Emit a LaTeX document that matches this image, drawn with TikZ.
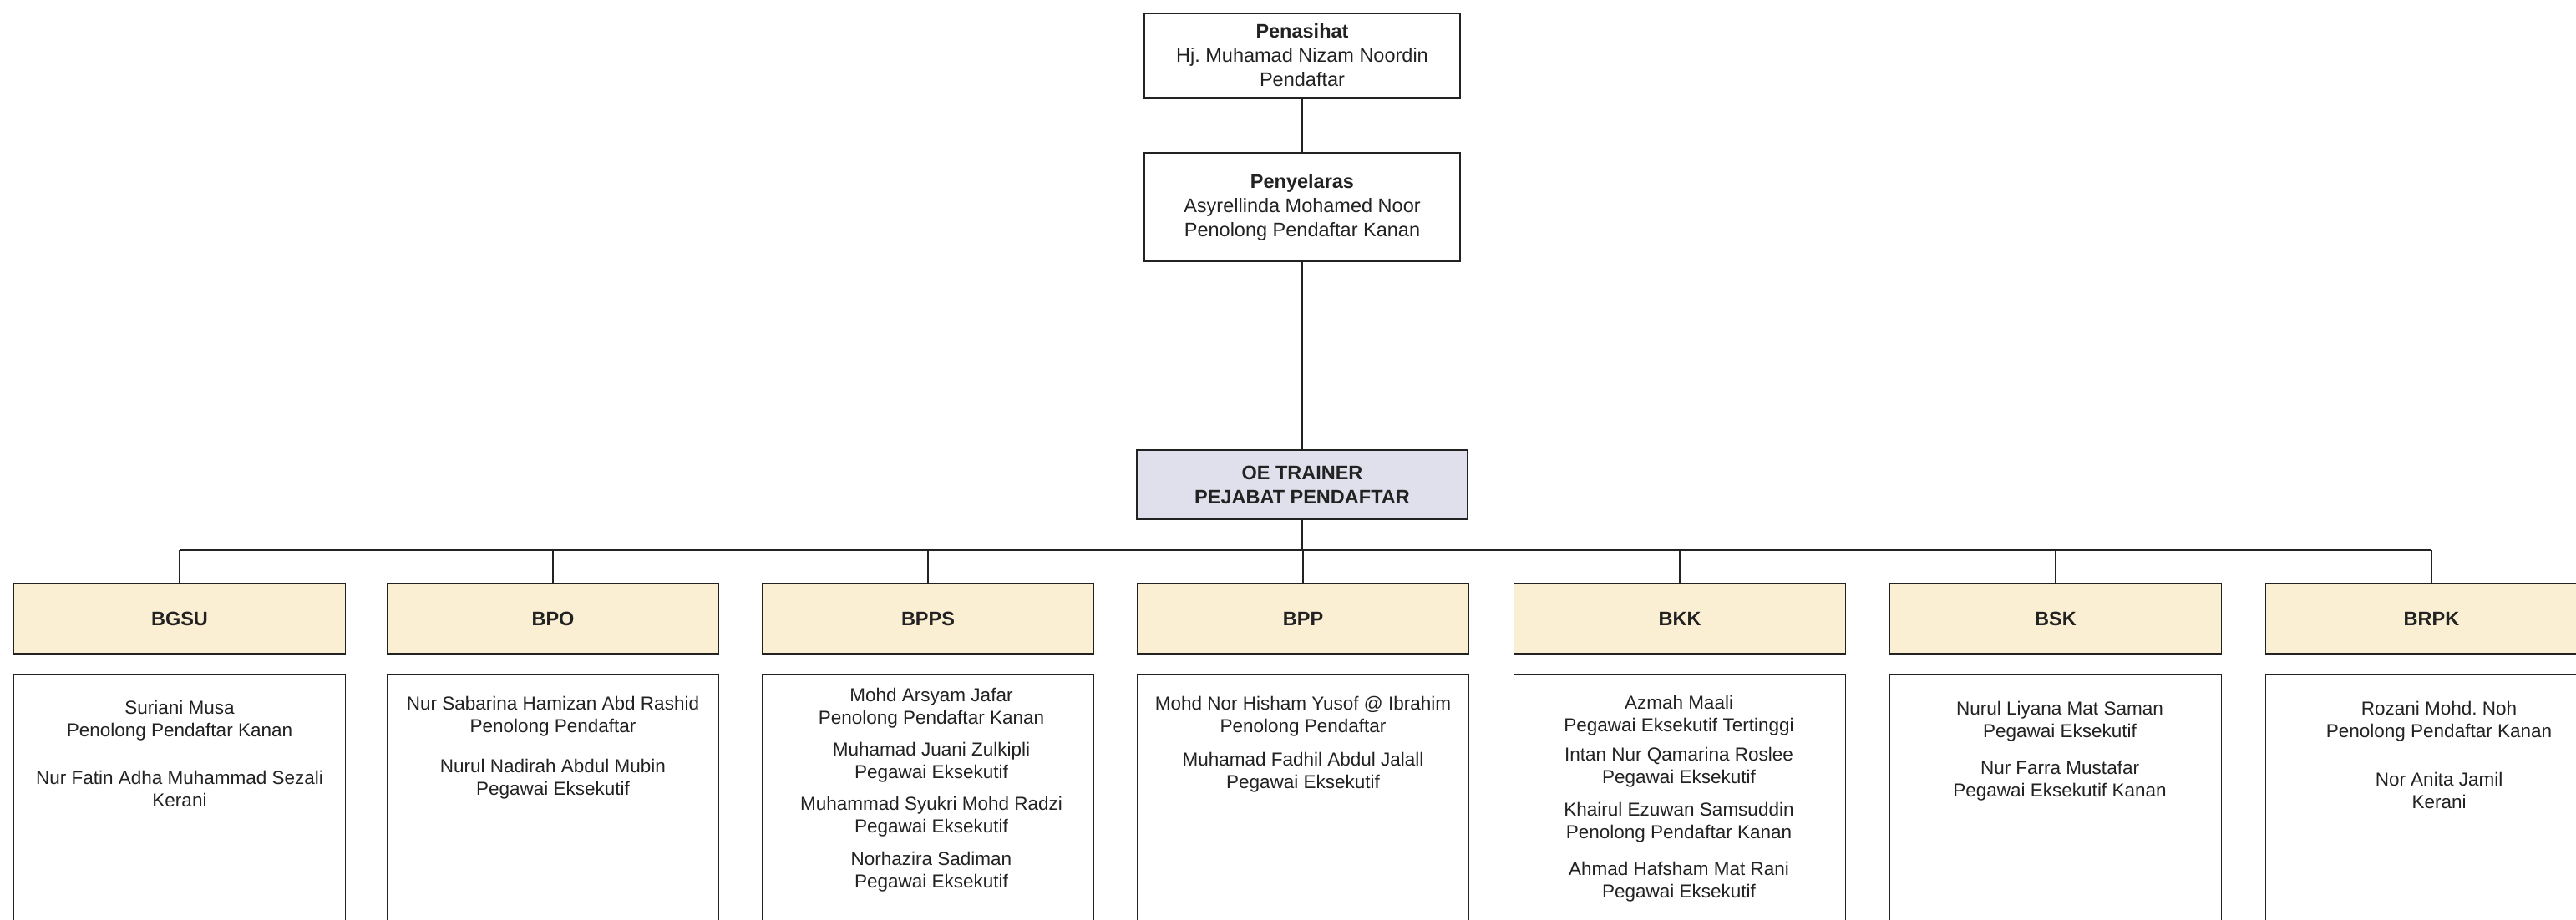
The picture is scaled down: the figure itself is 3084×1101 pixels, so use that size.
\documentclass[tikz,border=0pt]{standalone}
\usepackage{fontspec}
\setmainfont{Liberation Sans}
\frenchspacing
\definecolor{lav}{HTML}{E0E0EC}
\definecolor{cream}{HTML}{FAEFD3}
\definecolor{ink}{HTML}{222222}
\begin{document}
\frenchspacing
\begin{tikzpicture}[x=1pt,y=-1pt,
 box/.style={draw=ink, line width=1.8pt, inner sep=0pt, align=center, text=ink},
 topbox/.style={box, minimum width=378pt, font=\fontsize{23.5}{29}\selectfont},
 branch/.style={box, fill=cream, minimum width=397pt, minimum height=84pt, font=\fontsize{23.5}{29}\selectfont\bfseries},
 detail/.style={box, minimum width=397pt, minimum height=420pt, anchor=north},
 person/.style={align=center, text=ink, inner sep=0pt, font=\fontsize{22.5}{27}\selectfont},
 link/.style={draw=ink, line width=1.5pt}]
\useasboundingbox (0,0) rectangle (3084,1101);
\fill[white] (0,0) rectangle (3084,1101);
\clip (0,0) rectangle (3084,1101);

\node[topbox, minimum height=101pt] (pen) at (1559,66.5) {\textbf{Penasihat}\\Hj. Muhamad Nizam Noordin\\Pendaftar};
\node[topbox, minimum height=130pt] (sel) at (1559,248) {\textbf{Penyelaras}\\Asyrellinda Mohamed Noor\\Penolong Pendaftar Kanan};
\node[box, fill=lav, minimum width=396pt, minimum height=83pt, font=\fontsize{23.5}{29}\selectfont\bfseries] (oe) at (1559,580.5) {OE TRAINER\\PEJABAT PENDAFTAR};

\node[branch] (bgsu) at (215,741) {BGSU};
\node[branch] (bpo)  at (662,741) {BPO};
\node[branch] (bpps) at (1111,741) {BPPS};
\node[branch] (bpp)  at (1560,741) {BPP};
\node[branch] (bkk)  at (2011,741) {BKK};
\node[branch] (bsk)  at (2461,741) {BSK};
\node[branch] (brpk) at (2911,741) {BRPK};

\node[detail] (dbgsu) at (215,807) {};
\node[detail] (dbpo)  at (662,807) {};
\node[detail] (dbpps) at (1111,807) {};
\node[detail] (dbpp)  at (1560,807) {};
\node[detail] (dbkk)  at (2011,807) {};
\node[detail] (dbsk)  at (2461,807) {};
\node[detail] (dbrpk) at (2911,807) {};

\coordinate (bus) at (1559,659);
\draw[link] (pen.south) -- (sel.north);
\draw[link] (sel.south) -- (oe.north);
\draw[link] (oe.south) -- (bus);
\draw[link] (bgsu.north |- bus) -- (brpk.north |- bus);
\foreach \b in {bgsu,bpo,bpps,bpp,bkk,bsk,brpk}{
  \draw[link] (\b.north |- bus) -- (\b.north);
}

% BGSU
\node[person] (p1) at (215,863.5) {Suriani Musa\\Penolong Pendaftar Kanan};
\node[person] (p2) at (215,945) {Nur Fatin Adha Muhammad Sezali\\Kerani};
% BPO
\node[person] (p3) at (662,858.5) {Nur Sabarina Hamizan Abd Rashid\\Penolong Pendaftar};
\node[person] (p4) at (662,933.5) {Nurul Nadirah Abdul Mubin\\Pegawai Eksekutif};
% BPPS
\node[person] (p5) at (1115,848.5) {Mohd Arsyam Jafar\\Penolong Pendaftar Kanan};
\node[person] (p6) at (1115,913.5) {Muhamad Juani Zulkipli\\Pegawai Eksekutif};
\node[person] (p7) at (1115,978.5) {Muhammad Syukri Mohd Radzi\\Pegawai Eksekutif};
\node[person] (p8) at (1115,1044.5) {Norhazira Sadiman\\Pegawai Eksekutif};
% BPP
\node[person] (p9) at (1560,858.5) {Mohd Nor Hisham Yusof @ Ibrahim\\Penolong Pendaftar};
\node[person] (p10) at (1560,925) {Muhamad Fadhil Abdul Jalall\\Pegawai Eksekutif};
% BKK
\node[person] (p11) at (2010,857) {Azmah Maali\\Pegawai Eksekutif Tertinggi};
\node[person] (p12) at (2010,919) {Intan Nur Qamarina Roslee\\Pegawai Eksekutif};
\node[person] (p13) at (2010,985) {Khairul Ezuwan Samsuddin\\Penolong Pendaftar Kanan};
\node[person] (p14) at (2010,1056) {Ahmad Hafsham Mat Rani\\Pegawai Eksekutif};
% BSK
\node[person] (p15) at (2466,864) {Nurul Liyana Mat Saman\\Pegawai Eksekutif};
\node[person] (p16) at (2466,935) {Nur Farra Mustafar\\Pegawai Eksekutif Kanan};
% BRPK
\node[person] (p17) at (2920,864) {Rozani Mohd. Noh\\Penolong Pendaftar Kanan};
\node[person] (p18) at (2920,947) {Nor Anita Jamil\\Kerani};
\end{tikzpicture}
\end{document}
